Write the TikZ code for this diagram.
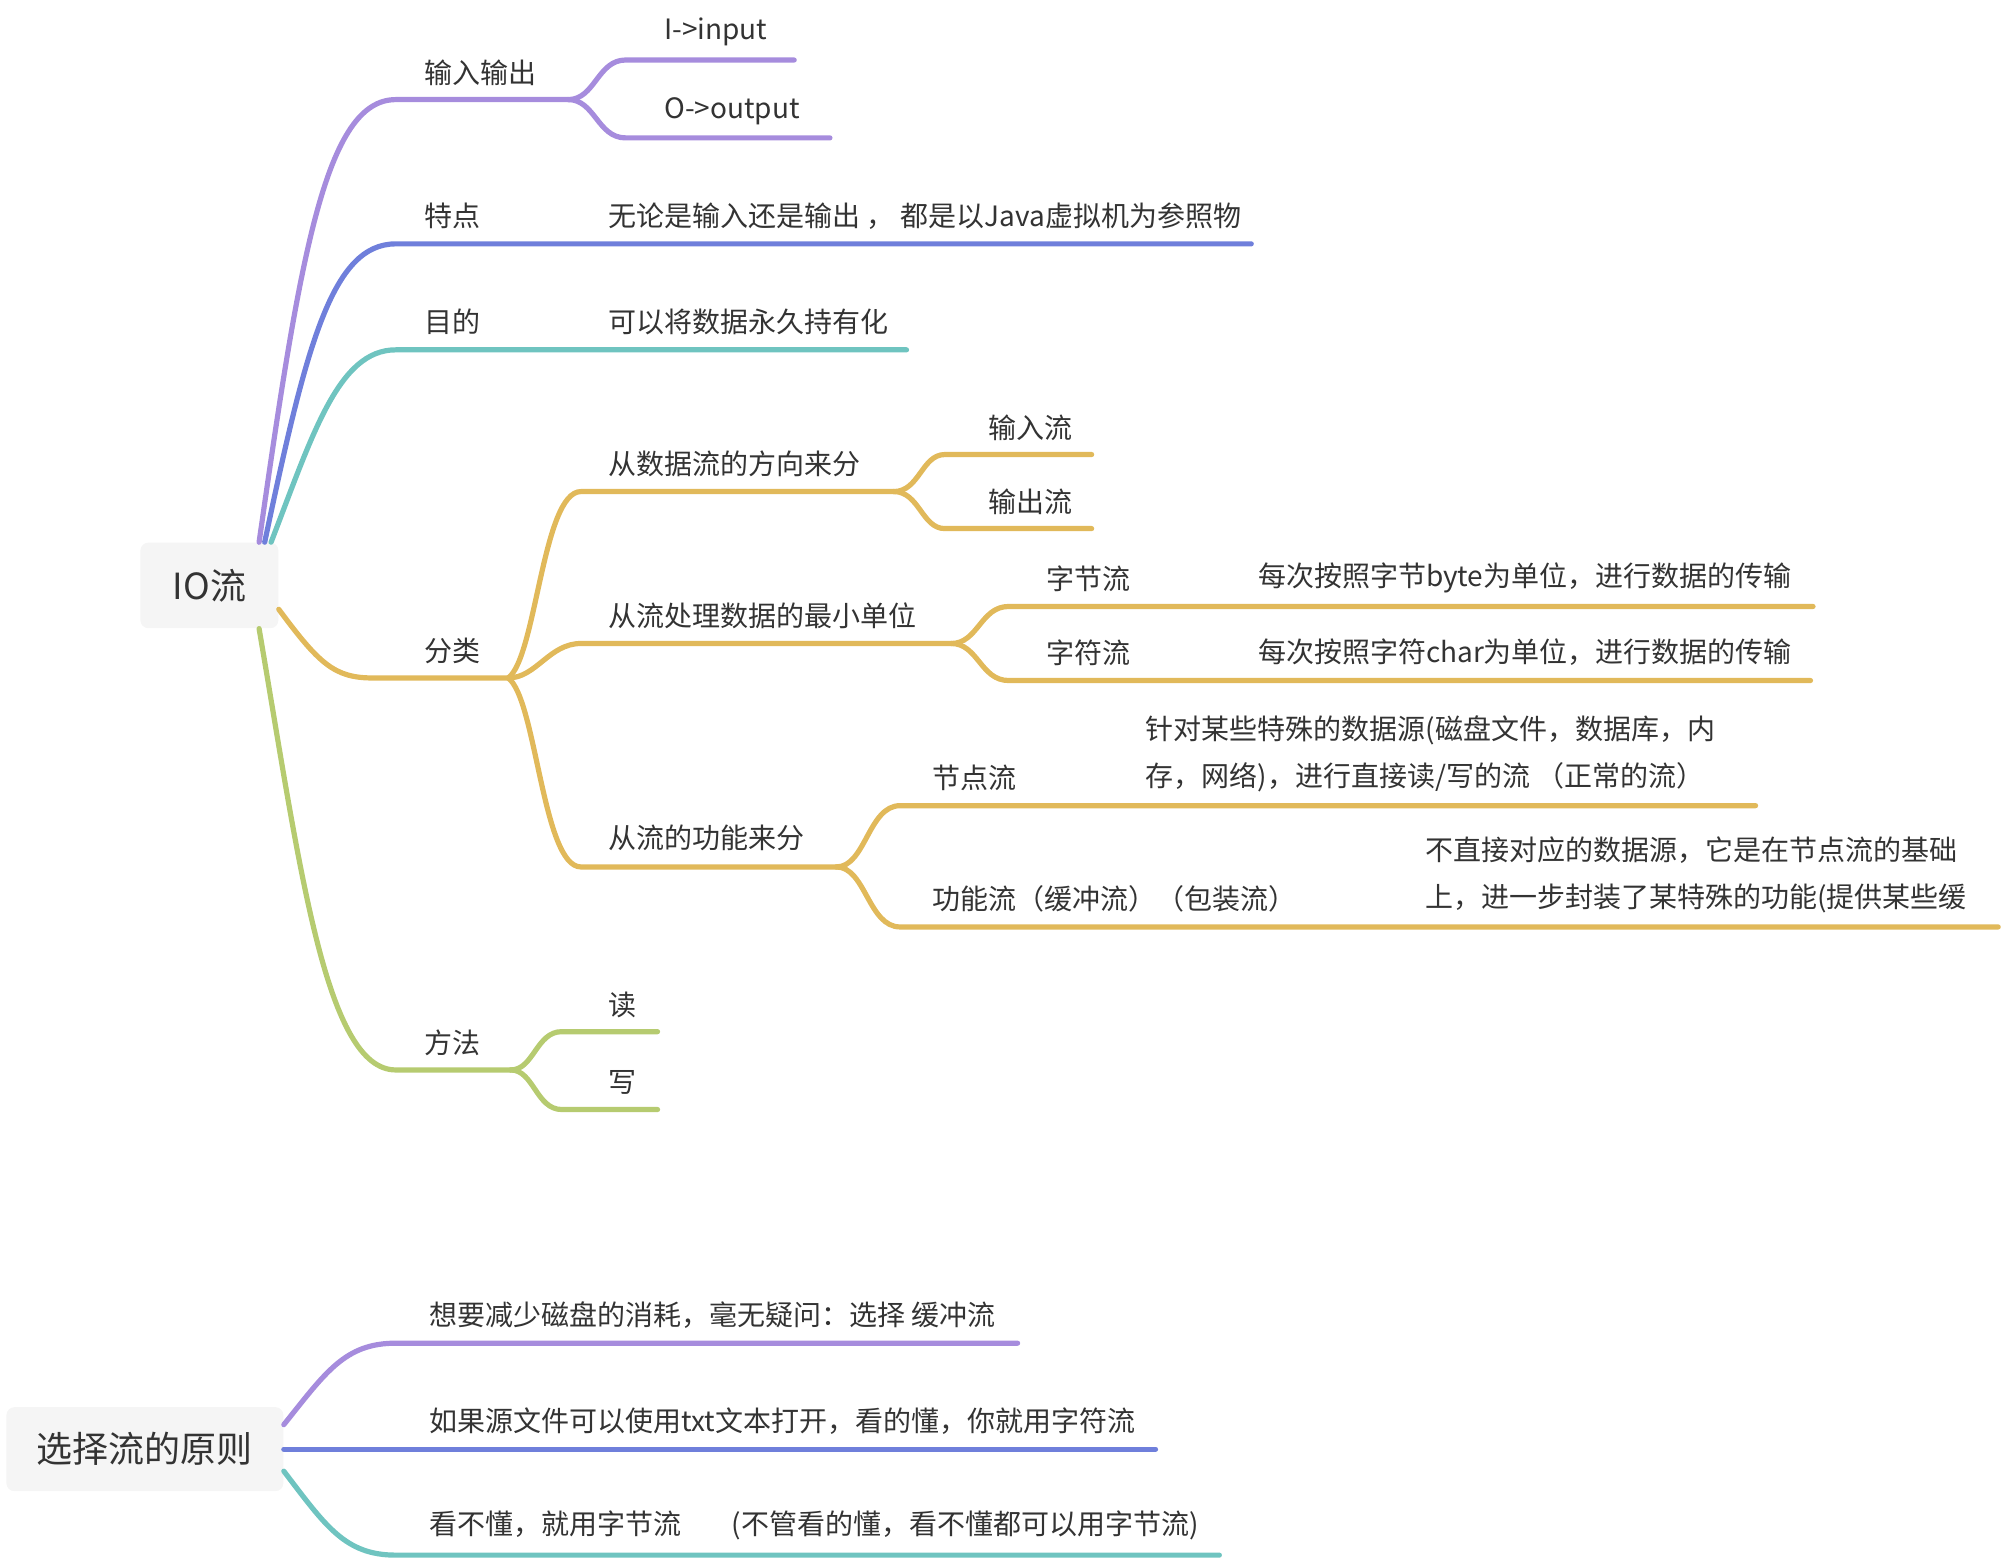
\documentclass[tikz,border=0pt]{standalone}
\usepackage{fontspec}
\setmainfont{Noto Sans CJK SC}

\definecolor{mmpurple}{HTML}{A68CDD}
\definecolor{mmblue}{HTML}{6F7FDB}
\definecolor{mmteal}{HTML}{6FC4C0}
\definecolor{mmgold}{HTML}{E1B95A}
\definecolor{mmgreen}{HTML}{B6CB70}
\definecolor{mmtext}{HTML}{333333}

\begin{document}
\begin{tikzpicture}[
        x=0.6384pt, y=-0.6384pt,
        root/.style={rectangle, fill=black!4, rounded corners=4pt, inner sep=0pt, font=\fontsize{18}{22}\selectfont, text=mmtext},
        topic/.style={anchor=west, inner sep=0pt, align=left, font=\fontsize{14}{23.6}\selectfont, text=mmtext},
        branch/.style={line width=2.6pt, line cap=round, line join=round}
    ]
        \useasboundingbox (0,0) rectangle (1568,1221);

        % the two roots
        \node[root, minimum width=69pt, minimum height=42.8pt] (io) at (164,458.5) {IO流};
        \node[root, minimum width=138.5pt, minimum height=42pt] (rule) at (113.5,1135) {选择流的原则};

        % 输入输出
        \coordinate (inout) at (310,78);
        \coordinate (inout-e) at (445,78);
        \node[topic] (inout-t) at (332,57) {输入输出};
        \draw[branch, mmpurple] (io.41) .. controls (235,200) and (255,78) .. (inout) -- (inout-e);
        \coordinate (in) at (490,47);
        \coordinate (in-e) at (622,47);
        \node[topic] (in-t) at (520,25) {I->input};
        \draw[branch, mmpurple] (inout-e) .. controls (466,78) and (468,47) .. (in) -- (in-e);
        \coordinate (out) at (490,108);
        \coordinate (out-e) at (650,108);
        \node[topic] (out-t) at (520,87) {O->output};
        \draw[branch, mmpurple] (inout-e) .. controls (466,78) and (468,108) .. (out) -- (out-e);

        % 特点
        \coordinate (trait) at (310,191);
        \coordinate (trait-e) at (455,191);
        \coordinate (trait-c) at (980,191);
        \node[topic] (trait-t) at (332,169) {特点};
        \node[topic] (trait-d) at (476,169) {无论是输入还是输出 ， 都是以Java虚拟机为参照物};
        \draw[branch, mmblue] (io.38) .. controls (240,270) and (260,191) .. (trait) -- (trait-e) -- (trait-c);

        % 目的
        \coordinate (aim) at (310,274);
        \coordinate (aim-e) at (455,274);
        \coordinate (aim-c) at (710,274);
        \node[topic] (aim-t) at (332,252) {目的};
        \node[topic] (aim-d) at (476,252) {可以将数据永久持有化};
        \draw[branch, mmteal] (io.35) .. controls (245,340) and (265,274) .. (aim) -- (aim-e) -- (aim-c);

        % 分类
        \coordinate (kind) at (292,531);
        \coordinate (kind-e) at (398,531);
        \node[topic] (kind-t) at (332,510) {分类};
        \draw[branch, mmgold] (io.-19) .. controls (250,520) and (262,531) .. (kind) -- (kind-e);

        \coordinate (dir) at (455,385);
        \coordinate (dir-e) at (700,385);
        \node[topic] (dir-t) at (476,363) {从数据流的方向来分};
        \draw[branch, mmgold] (kind-e) .. controls (420,515) and (425,385) .. (dir) -- (dir-e);
        \coordinate (instream) at (740,356);
        \coordinate (instream-e) at (855,356);
        \node[topic] (instream-t) at (774,335) {输入流};
        \draw[branch, mmgold] (dir-e) .. controls (720,385) and (722,356) .. (instream) -- (instream-e);
        \coordinate (outstream) at (740,414);
        \coordinate (outstream-e) at (855,414);
        \node[topic] (outstream-t) at (774,393) {输出流};
        \draw[branch, mmgold] (dir-e) .. controls (720,385) and (722,414) .. (outstream) -- (outstream-e);

        \coordinate (unit) at (455,504);
        \coordinate (unit-e) at (745,504);
        \node[topic] (unit-t) at (476,482) {从流处理数据的最小单位};
        \draw[branch, mmgold] (kind-e) .. controls (420,531) and (430,504) .. (unit) -- (unit-e);
        \coordinate (byte) at (790,475);
        \coordinate (byte-e) at (960,475);
        \coordinate (byte-c) at (1420,475);
        \node[topic] (byte-t) at (819,453) {字节流};
        \node[topic] (byte-d) at (985,453) {每次按照字节byte为单位，进行数据的传输};
        \draw[branch, mmgold] (unit-e) .. controls (766,504) and (768,475) .. (byte) -- (byte-e) -- (byte-c);
        \coordinate (char) at (790,533);
        \coordinate (char-e) at (960,533);
        \coordinate (char-c) at (1418,533);
        \node[topic] (char-t) at (819,511) {字符流};
        \node[topic] (char-d) at (985,511) {每次按照字符char为单位，进行数据的传输};
        \draw[branch, mmgold] (unit-e) .. controls (766,504) and (768,533) .. (char) -- (char-e) -- (char-c);

        \coordinate (func) at (455,679);
        \coordinate (func-e) at (655,679);
        \node[topic] (func-t) at (476,656) {从流的功能来分};
        \draw[branch, mmgold] (kind-e) .. controls (420,547) and (425,679) .. (func) -- (func-e);
        \coordinate (nodestream) at (705,631);
        \coordinate (nodestream-e) at (872,631);
        \coordinate (nodestream-c) at (1375,631);
        \node[topic] (nodestream-t) at (730,609) {节点流};
        \node[topic] (nodestream-d) at (897,590.5) {针对某些特殊的数据源(磁盘文件，数据库，内\\存，网络)，进行直接读/写的流 （正常的流）};
        \draw[branch, mmgold] (func-e) .. controls (678,679) and (680,631) .. (nodestream) -- (nodestream-e) -- (nodestream-c);
        \coordinate (wrap) at (705,726);
        \coordinate (wrap-e) at (1090,726);
        \coordinate (wrap-c) at (1565,726);
        \node[topic] (wrap-t) at (730,704) {功能流（缓冲流）（包装流）};
        \node[topic] (wrap-d) at (1116,685.5) {不直接对应的数据源，它是在节点流的基础\\上，进一步封装了某特殊的功能(提供某些缓};
        \draw[branch, mmgold] (func-e) .. controls (678,679) and (680,726) .. (wrap) -- (wrap-e) -- (wrap-c);

        % 方法
        \coordinate (way) at (310,838);
        \coordinate (way-e) at (400,838);
        \node[topic] (way-t) at (332,817) {方法};
        \draw[branch, mmgreen] (io.-41) .. controls (235,680) and (255,838) .. (way) -- (way-e);
        \coordinate (read) at (440,808);
        \coordinate (read-e) at (515,808);
        \node[topic] (read-t) at (476,787) {读};
        \draw[branch, mmgreen] (way-e) .. controls (418,838) and (420,808) .. (read) -- (read-e);
        \coordinate (write) at (440,869);
        \coordinate (write-e) at (515,869);
        \node[topic] (write-t) at (476,848) {写};
        \draw[branch, mmgreen] (way-e) .. controls (418,838) and (420,869) .. (write) -- (write-e);

        % 选择流的原则
        \coordinate (less) at (310,1052);
        \coordinate (less-e) at (797,1052);
        \node[topic] (less-t) at (336,1030) {想要减少磁盘的消耗，毫无疑问：选择 缓冲流};
        \draw[branch, mmpurple] (rule.10) .. controls (255,1075) and (270,1052) .. (less) -- (less-e);
        \coordinate (txt) at (310,1135);
        \coordinate (txt-e) at (905,1135);
        \node[topic] (txt-t) at (336,1113) {如果源文件可以使用txt文本打开，看的懂，你就用字符流};
        \draw[branch, mmblue] (rule.east) -- (txt) -- (txt-e);
        \coordinate (bin) at (310,1218);
        \coordinate (bin-e) at (955,1218);
        \node[topic] (bin-t) at (336,1195) {看不懂，就用字节流\hspace{1.8em}(不管看的懂，看不懂都可以用字节流)};
        \draw[branch, mmteal] (rule.-9) .. controls (255,1195) and (270,1218) .. (bin) -- (bin-e);
    \end{tikzpicture}
\end{document}
